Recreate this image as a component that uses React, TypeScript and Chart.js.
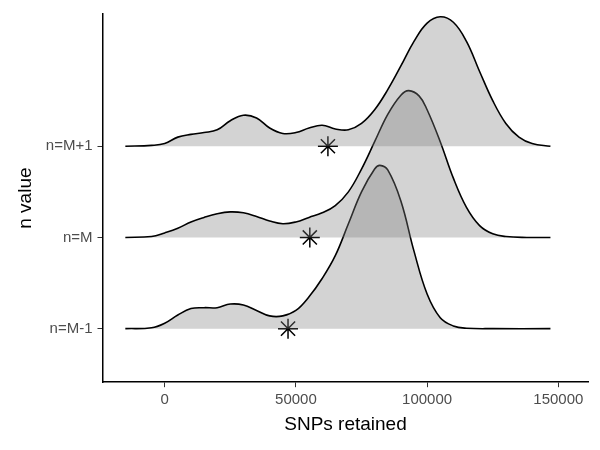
import { useEffect, useRef } from "react";
import Chart, { ChartConfiguration } from "chart.js/auto";

const categories = ["n=M-1", "n=M", "n=M+1"];
const xTicks = [0, 50000, 100000, 150000];

// density heights (x in thousands, height above baseline)
const densM1: [number, number][] = [[-15,0],[-5,0.01],[0,0.06],[5,0.15],[10,0.22],[15,0.23],[20,0.23],[25,0.27],[30,0.26],[35,0.2],[40,0.14],[45,0.14],[50,0.2],[55,0.35],[60,0.55],[65,0.8],[70,1.15],[75,1.5],[80,1.75],[82,1.79],[85,1.74],[90,1.4],[95,0.85],[100,0.38],[105,0.12],[110,0.03],[115,0.005],[125,0],[147,0]];
const densM: [number, number][] = [[-15,0],[-5,0.01],[0,0.05],[5,0.1],[10,0.17],[15,0.22],[20,0.26],[25,0.28],[30,0.27],[35,0.23],[40,0.18],[45,0.15],[50,0.17],[55,0.22],[60,0.27],[65,0.35],[70,0.5],[75,0.75],[80,1.05],[85,1.35],[90,1.56],[93,1.61],[97,1.55],[100,1.4],[105,1.05],[110,0.65],[115,0.33],[120,0.13],[125,0.04],[130,0.01],[138,0],[147,0]];
const densMP1: [number, number][] = [[-15,0],[-5,0.01],[0,0.03],[5,0.1],[10,0.13],[15,0.15],[20,0.18],[25,0.28],[30,0.34],[35,0.31],[40,0.2],[45,0.14],[50,0.15],[55,0.2],[60,0.23],[65,0.19],[70,0.18],[75,0.25],[80,0.4],[85,0.62],[90,0.88],[95,1.15],[100,1.35],[105,1.42],[110,1.36],[115,1.15],[120,0.82],[125,0.5],[130,0.25],[135,0.1],[140,0.03],[147,0]];
const starX = [47000, 55300, 62200];

const App = () => {
  const chartRef = useRef<HTMLCanvasElement | null>(null);

  useEffect(() => {
    if (!chartRef.current) return;
    const ridge = (d: [number, number][], base: number) => ({
      type: "line" as const,
      data: d.map(([x, h]) => ({ x: x * 1000, y: base + h })),
      borderColor: "#000",
      borderWidth: 1.6,
      backgroundColor: "rgba(128,128,128,0.35)",
      fill: { value: base },
      tension: 0.4,
      pointRadius: 0,
    });
    const config: ChartConfiguration = {
      type: "line",
      data: {
        datasets: [
          ridge(densMP1, 3),
          ridge(densM, 2),
          ridge(densM1, 1),
          {
            type: "scatter",
            data: starX.map((x, i) => ({ x, y: i + 1 })),
            pointStyle: "star",
            radius: 10,
            borderColor: "#000",
            borderWidth: 1.5,
            backgroundColor: "#000",
          },
        ] as any,
      },
      options: {
        animation: false,
        responsive: false,
        layout: { padding: { top: 6, right: 2, left: 10, bottom: 14 } },
        plugins: { legend: { display: false }, tooltip: { enabled: false } },
        scales: {
          x: {
            type: "linear",
            min: -23700,
            max: 161500,
            afterBuildTicks: (s: any) => { s.ticks = xTicks.map((v) => ({ value: v })); },
            ticks: { color: "#4d4d4d", font: { size: 15, family: "Liberation Sans" }, callback: (v: any) => String(v), maxRotation: 0, padding: 4 },
            grid: { drawOnChartArea: false, tickLength: 5, color: "#333" },
            border: { color: "#000", width: 1.5 },
            title: { display: true, text: "SNPs retained", color: "#000", font: { size: 19, family: "Liberation Sans" }, padding: 0 },
          },
          y: {
            type: "linear",
            min: 0.413,
            max: 4.45,
            afterBuildTicks: (s: any) => { s.ticks = [1, 2, 3].map((v) => ({ value: v })); },
            ticks: { color: "#4d4d4d", font: { size: 15, family: "Liberation Sans" }, callback: (v: any) => categories[Number(v) - 1], padding: 5 },
            grid: { drawOnChartArea: false, tickLength: 5, color: "#333" },
            border: { color: "#000", width: 1.5 },
            title: { display: true, text: "n value", color: "#000", font: { size: 19, family: "Liberation Sans" } },
          },
        },
      },
    };
    const chart = new Chart(chartRef.current, config);
    return () => chart.destroy();
  }, []);

  return (
    <div style={{ position: "absolute", left: 0, top: 0 }}>
      <canvas ref={chartRef} width={600} height={450} />
    </div>
  );
};

export default App;
